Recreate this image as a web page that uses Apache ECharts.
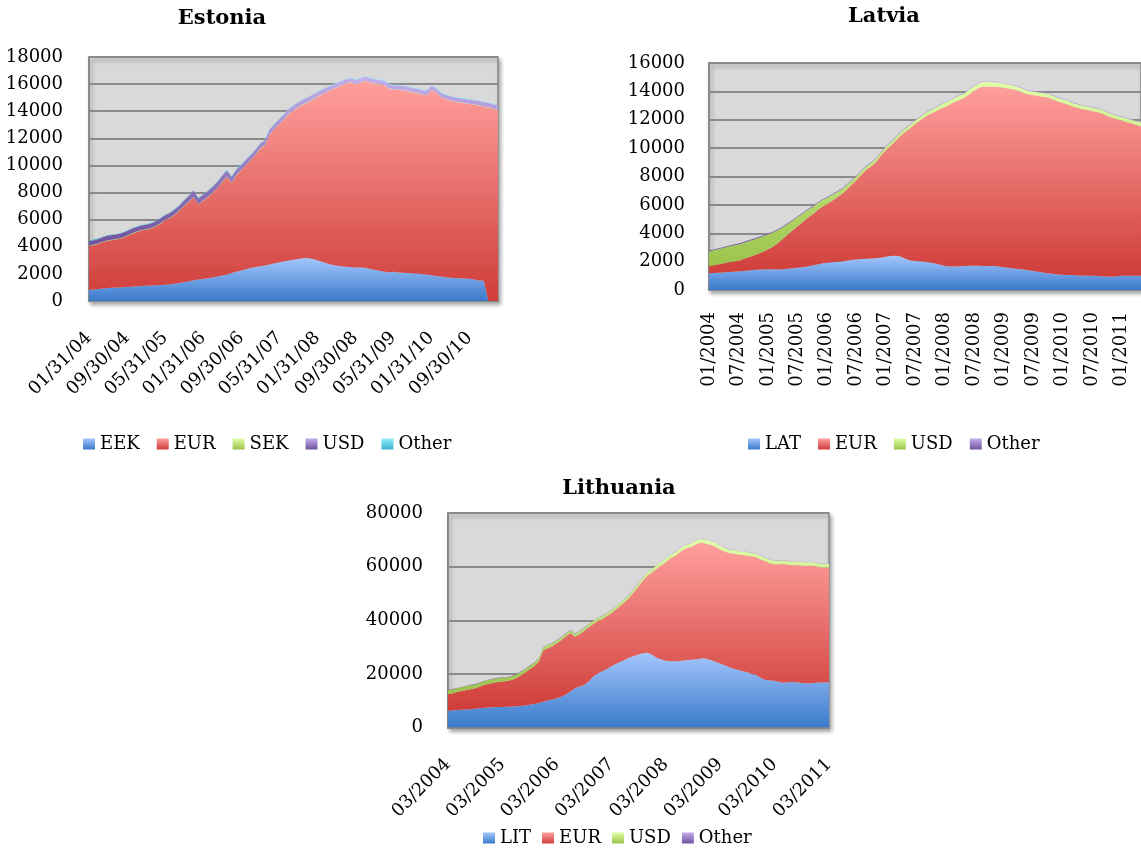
<!DOCTYPE html>
<html>
<head>
<meta charset="utf-8">
<title>Baltic deposits by currency</title>
<script src="https://cdn.jsdelivr.net/npm/echarts@6/dist/echarts.min.js"></script>
<style>
  html, body { margin: 0; padding: 0; background: #ffffff; }
  .chart { position: absolute; left: 0; top: 0; width: 1141px; height: 852px; }
</style>
</head>
<body>
<div id="estonia" class="chart"></div>
<div id="latvia" class="chart"></div>
<div id="lithuania" class="chart"></div>
<script>
// ---------- Estonia (monthly, Jan 2004 - Mar 2011) ----------
const estoniaEEK = [820,850,880,920,950,970,990,1010,1040,1060,
  1080,1100,1120,1140,1160,1180,1200,1230,1270,1320,
  1380,1450,1530,1580,1620,1680,1740,1800,1880,1960,
  2060,2150,2250,2350,2430,2500,2560,2620,2700,2780,
  2850,2920,2980,3040,3090,3160,3180,3100,3000,2900,
  2780,2680,2620,2560,2520,2500,2480,2470,2450,2380,
  2300,2230,2170,2100,2150,2100,2080,2060,2050,2030,
  2000,1950,1900,1850,1800,1760,1720,1700,1680,1660,
  1640,1580,1520,1500,0,0,0];
const estoniaEUR = [3230,3270,3340,3430,3500,3530,3560,3640,3760,3890,
  4000,4100,4130,4210,4340,4520,4750,4870,5080,5330,
  5620,5860,6130,5530,5790,5980,6220,6510,6880,7200,
  6650,7130,7380,7680,7950,8280,8670,8860,9580,9900,
  10180,10460,10800,10990,11190,11320,11450,11730,12030,12330,
  12600,12900,13110,13320,13510,13630,13500,13610,13780,13750,
  13730,13750,13760,13580,13430,13480,13450,13420,13330,13300,
  13230,13230,13630,13530,13230,13120,13060,12980,12950,12920,
  12890,12900,12910,12830,14280,14180,14080];
const estoniaSEK = [40,40,40,40,40,40,40,40,40,40,
  40,40,40,40,40,40,40,40,40,40,
  35,35,35,35,35,35,35,35,35,35,
  30,30,30,30,30,30,30,30,30,30,
  30,30,30,30,30,30,30,30,30,30,
  25,25,25,25,25,25,25,25,25,25,
  25,25,25,25,25,25,25,25,25,25,
  25,25,25,25,25,25,25,25,25,25,
  25,25,25,25,25,25,25];
const estoniaUSD = [330,330,320,330,340,330,330,320,330,340,
  330,330,340,330,330,340,340,350,350,360,
  380,420,440,420,410,420,430,440,450,440,
  420,400,380,360,350,350,350,340,350,350,
  350,350,350,350,350,350,350,350,340,340,
  340,300,300,300,300,300,300,300,300,300,
  300,300,300,300,300,300,300,300,300,300,
  300,300,300,300,300,300,300,300,300,300,
  300,300,300,300,300,300,300];
const estoniaOther = [40,40,40,40,40,40,40,40,40,40,
  40,40,40,40,40,40,40,40,40,40,
  40,40,40,40,40,40,40,40,40,40,
  40,40,40,40,40,40,40,40,40,40,
  40,40,40,40,40,40,40,40,40,40,
  45,45,45,45,45,45,45,45,45,45,
  45,45,45,45,45,45,45,45,45,45,
  45,45,45,45,45,45,45,45,45,45,
  45,45,45,45,45,45,45];

// ---------- Latvia (monthly, Jan 2004 - May 2011) ----------
const latviaLAT = [1180,1200,1220,1240,1260,1280,1300,1340,1380,1410,
  1430,1450,1460,1460,1450,1460,1500,1530,1570,1610,
  1660,1730,1800,1870,1920,1960,1990,2010,2060,2110,
  2150,2180,2200,2220,2240,2280,2340,2400,2420,2360,
  2200,2080,2040,2020,2000,1940,1860,1790,1700,1650,
  1650,1680,1700,1710,1710,1710,1700,1700,1690,1650,
  1600,1560,1520,1480,1440,1400,1340,1280,1230,1180,
  1140,1100,1080,1060,1050,1030,1020,1010,1000,990,
  970,950,940,960,1000,1010,1010,1010,1010];
const latviaEUR = [510,550,600,640,690,730,770,840,920,1010,
  1130,1250,1400,1590,1850,2140,2400,2670,2930,3140,
  3390,3570,3800,3980,4130,4320,4510,4740,4990,5290,
  5570,5920,6250,6480,6760,7170,7510,7750,8080,8490,
  8950,9320,9660,9930,10200,10460,10690,10960,11200,11400,
  11600,11720,11850,12090,12340,12540,12650,12650,12640,12650,
  12660,12640,12630,12570,12460,12400,12410,12400,12390,12400,
  12310,12200,12120,12040,11900,11820,11730,11670,11620,11560,
  11480,11350,11210,11090,10950,10840,10740,10640,10540];
const latviaUSD = [1030,1050,1070,1090,1110,1130,1140,1140,1140,1130,
  1110,1090,1060,1000,920,820,740,680,640,600,
  570,540,500,470,440,410,380,350,330,300,
  280,260,250,250,250,250,250,250,250,250,
  250,250,250,250,260,260,270,280,290,300,
  300,300,300,310,320,330,330,320,310,300,
  290,280,270,260,260,250,250,250,250,250,
  250,250,250,250,250,250,250,250,250,250,
  250,250,250,250,250,250,250,250,250];
const latviaOther = [60,60,60,60,60,60,60,60,60,60,
  60,60,60,60,60,60,60,60,60,60,
  55,55,55,55,55,55,55,55,55,55,
  50,50,50,50,50,50,50,50,50,50,
  50,50,50,50,50,50,50,50,50,50,
  50,50,50,50,50,50,50,50,50,50,
  45,45,45,45,45,45,45,45,45,45,
  45,45,45,45,45,45,45,45,45,45,
  45,45,45,45,45,45,45,45,45];

// ---------- Lithuania (monthly, Mar 2004 - Mar 2011) ----------
const lithuaniaLIT = [6260,6350,6500,6600,6700,6850,6950,7150,7350,7450,
  7550,7620,7680,7740,7800,7900,8050,8250,8500,8800,
  9100,9600,10100,10450,10900,11500,12350,13400,14600,15300,
  15850,17200,18900,20100,21000,21800,22800,23700,24500,25300,
  26100,26700,27250,27700,27900,27100,26000,25400,24900,24700,
  24700,24800,24950,25150,25350,25500,25800,25600,25100,24500,
  23900,23200,22450,21900,21400,21000,20600,20000,19550,18500,
  17700,17550,17450,17000,16700,16850,16950,16750,16600,16550,
  16550,16650,16800,16800,16850];
const lithuaniaEUR = [6220,6450,6700,7000,7300,7450,7650,8050,8550,8850,
  9150,9380,9520,9610,9900,10500,11350,12250,13200,14000,
  15400,19200,19500,19850,20500,21100,21650,21800,19200,19500,
  20150,20100,19700,19600,19500,19700,19800,20300,20900,21500,
  22400,23800,25350,27200,28800,30700,33200,35000,36700,38300,
  39300,40500,41450,41950,42250,43100,43100,42900,43000,42900,
  42500,42400,42650,43000,43100,43300,43500,43800,43950,44200,
  44300,43750,43450,43900,44300,43850,43550,43850,43800,43750,
  43850,43450,43000,42900,42850];
const lithuaniaUSD = [1400,1400,1400,1400,1450,1450,1450,1400,1400,1400,
  1400,1400,1350,1350,1350,1300,1300,1300,1250,1250,
  1200,1200,1150,1150,1150,1100,1100,1100,1100,1100,
  1100,1100,1100,1100,1100,1100,1100,1100,1100,1150,
  1150,1200,1200,1250,1250,1300,1300,1300,1300,1300,
  1300,1300,1350,1350,1400,1400,1400,1400,1400,1400,
  1350,1350,1300,1300,1300,1300,1300,1300,1300,1300,
  1300,1300,1300,1300,1300,1300,1300,1300,1300,1300,
  1300,1300,1300,1300,1300];
const lithuaniaOther = [150,150,150,150,150,150,150,150,150,150,
  150,150,150,150,150,150,150,150,150,150,
  150,150,150,150,150,150,150,150,150,150,
  150,150,150,150,150,150,150,150,150,150,
  150,150,150,150,150,150,150,150,150,150,
  150,150,150,150,150,150,150,150,150,150,
  150,150,150,150,150,150,150,150,150,150,
  150,150,150,150,150,150,150,150,150,150,
  150,150,150,150,150];

// ---------- category labels ----------
function pad2(n) { return (n < 10 ? '0' : '') + n; }
// month-end dates as mm/dd/yy
function monthEndLabels(year, month, count) {
  const out = [];
  for (let i = 0; i < count; i++) {
    const y = year + Math.floor((month - 1 + i) / 12);
    const m = ((month - 1 + i) % 12) + 1;
    const d = new Date(y, m, 0).getDate();
    out.push(pad2(m) + '/' + pad2(d) + '/' + pad2(y % 100));
  }
  return out;
}
// mm/yyyy
function monthYearLabels(year, month, count) {
  const out = [];
  for (let i = 0; i < count; i++) {
    const y = year + Math.floor((month - 1 + i) / 12);
    const m = ((month - 1 + i) % 12) + 1;
    out.push(pad2(m) + '/' + y);
  }
  return out;
}
const estoniaMonths = monthEndLabels(2004, 1, estoniaEEK.length);
const latviaMonths = monthYearLabels(2004, 1, latviaLAT.length);
const lithuaniaMonths = monthYearLabels(2004, 3, lithuaniaLIT.length);

// ---------- styling ----------
const FONT = 'DejaVu Serif';
const GRID_LINE = '#8A8A8A';
const SHADES = {
  blue:   ['#A4C6FC', '#3A7ACB'],
  red:    ['#FF9F9C', '#CF3D39'],
  green:  ['#E0FFA6', '#9BC34B'],
  purple: ['#C4ADEA', '#70529E'],
  cyan:   ['#93ECFB', '#3AB3D0']
};
function shade(key) {
  return new echarts.graphic.LinearGradient(0, 0, 0, 1, [
    { offset: 0, color: SHADES[key][0] },
    { offset: 1, color: SHADES[key][1] }
  ]);
}
function band(name, data, key) {
  const fill = shade(key);
  return {
    name: name, type: 'line', stack: 'total', data: data,
    symbol: 'none', showSymbol: false,
    lineStyle: { width: 0, opacity: 0 },
    itemStyle: { color: fill },
    areaStyle: { color: fill, opacity: 1 },
    emphasis: { disabled: true },
    silent: true
  };
}

function makeChart(id, cfg) {
  const chart = echarts.init(document.getElementById(id), null, { renderer: 'canvas' });
  chart.setOption({
    animation: false,
    title: {
      text: cfg.title, left: cfg.titleX, top: cfg.titleY, padding: 0,
      textAlign: 'center', textVerticalAlign: 'top',
      textStyle: { fontFamily: FONT, fontWeight: 'bold', fontSize: 21, color: '#000' }
    },
    legend: {
      left: cfg.legendX, top: cfg.legendY, padding: 0,
      icon: 'rect', itemWidth: 12, itemHeight: 11, itemGap: cfg.legendGap,
      selectedMode: false,
      textStyle: { fontFamily: FONT, fontSize: 18, color: '#000' },
      data: cfg.series.map(s => s.name)
    },
    grid: {
      left: cfg.grid[0], top: cfg.grid[1], width: cfg.grid[2], height: cfg.grid[3],
      show: true, backgroundColor: '#D9D9D9', borderColor: GRID_LINE, borderWidth: 1.5,
      shadowColor: 'rgba(0,0,0,0.35)', shadowBlur: 4, shadowOffsetX: 2, shadowOffsetY: 3
    },
    xAxis: {
      type: 'category', boundaryGap: false, data: cfg.categories,
      axisLine: { show: true, lineStyle: { color: GRID_LINE, width: 2 } },
      axisTick: { show: false },
      axisLabel: {
        interval: cfg.labelEvery - 1, rotate: cfg.rotate, margin: cfg.xMargin,
        fontFamily: FONT, fontSize: 18, color: '#000'
      },
      splitLine: { show: false }
    },
    yAxis: {
      type: 'value', min: 0, max: cfg.yMax, interval: cfg.yStep,
      axisLine: { show: true, lineStyle: { color: GRID_LINE, width: 2 } },
      axisTick: { show: false },
      splitLine: { show: true, lineStyle: { color: GRID_LINE, width: 2 } },
      axisLabel: {
        margin: cfg.yMargin, fontFamily: FONT, fontSize: 18, color: '#000',
        formatter: v => String(v)
      }
    },
    series: cfg.series
  });
}

makeChart('estonia', {
  title: 'Estonia', titleX: 222, titleY: 8,
  legendX: 83, legendY: 435, legendGap: 17,
  grid: [89, 57, 409, 244],
  categories: estoniaMonths, labelEvery: 8, rotate: 45, xMargin: 34,
  yMax: 18000, yStep: 2000, yMargin: 26,
  series: [
    band('EEK', estoniaEEK, 'blue'),
    band('EUR', estoniaEUR, 'red'),
    band('SEK', estoniaSEK, 'green'),
    band('USD', estoniaUSD, 'purple'),
    band('Other', estoniaOther, 'cyan')
  ]
});

makeChart('latvia', {
  title: 'Latvia', titleX: 884, titleY: 6,
  legendX: 748, legendY: 435, legendGap: 17,
  grid: [709, 63, 435, 227],
  categories: latviaMonths, labelEvery: 6, rotate: 90, xMargin: 22,
  yMax: 16000, yStep: 2000, yMargin: 24,
  series: [
    band('LAT', latviaLAT, 'blue'),
    band('EUR', latviaEUR, 'red'),
    band('USD', latviaUSD, 'green'),
    band('Other', latviaOther, 'purple')
  ]
});

makeChart('lithuania', {
  title: 'Lithuania', titleX: 619, titleY: 478,
  legendX: 483, legendY: 829, legendGap: 11,
  grid: [448, 513, 381, 214.5],
  categories: lithuaniaMonths, labelEvery: 12, rotate: 45, xMargin: 34,
  yMax: 80000, yStep: 20000, yMargin: 25,
  series: [
    band('LIT', lithuaniaLIT, 'blue'),
    band('EUR', lithuaniaEUR, 'red'),
    band('USD', lithuaniaUSD, 'green'),
    band('Other', lithuaniaOther, 'purple')
  ]
});
</script>
</body>
</html>
